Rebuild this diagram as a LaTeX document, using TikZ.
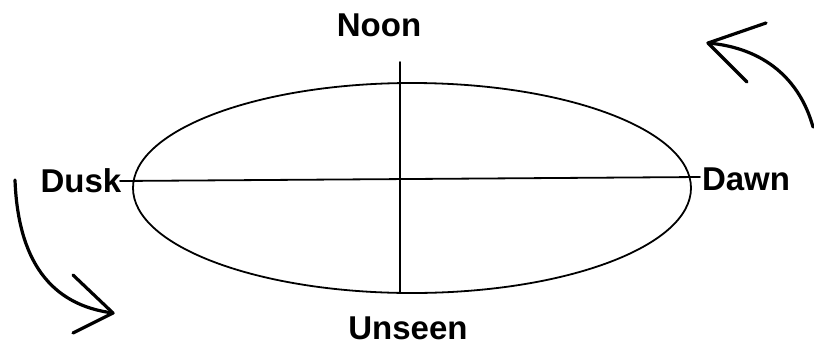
\documentclass[tikz,border=0pt]{standalone}
\usepackage{fontspec}
\setmainfont{Liberation Sans}
\usetikzlibrary{shapes.geometric}
\begin{document}
\begin{tikzpicture}[x=1pt,y=-1pt,
  lbl/.style={font=\fontsize{33}{33}\selectfont\bfseries, anchor=base, inner sep=0pt},
  thinline/.style={line width=1.8pt, line cap=round},
  arrowline/.style={line width=3.2pt, line cap=round, line join=round}]
\useasboundingbox (0,0) rectangle (814,349);
\node[lbl] (noon) at (379,36) {Noon};
\node[lbl] (dusk) at (81,192) {Dusk};
\node[lbl] (dawn) at (746,190) {Dawn};
\node[lbl] (unseen) at (408,339) {Unseen};
\node[draw, ellipse, line width=1.8pt, minimum width=558pt, minimum height=210pt, inner sep=0pt] (E) at (412,188) {};
\coordinate (hl) at (120,181);
\coordinate (hr) at (700,177);
\coordinate (vt) at (400,62);
\coordinate (vb) at (400,293);
\draw[thinline] (hl) -- (hr);
\draw[thinline] (vt) -- (vb);
% top-right arrow
\coordinate (t1) at (813,127);
\coordinate (t2) at (708,43);
\coordinate (t2a) at (766,23);
\coordinate (t2b) at (747,82);
\draw[arrowline] (t1) .. controls (800,80) and (765,48) .. (t2);
\draw[arrowline] (t2a) -- (t2) -- (t2b);
% bottom-left arrow
\coordinate (b1) at (15,180);
\coordinate (b2) at (113,313);
\coordinate (b2a) at (73,275);
\coordinate (b2b) at (73,333);
\draw[arrowline] (b1) .. controls (18,260) and (50,305) .. (b2);
\draw[arrowline] (b2a) -- (b2) -- (b2b);
\end{tikzpicture}
\end{document}
